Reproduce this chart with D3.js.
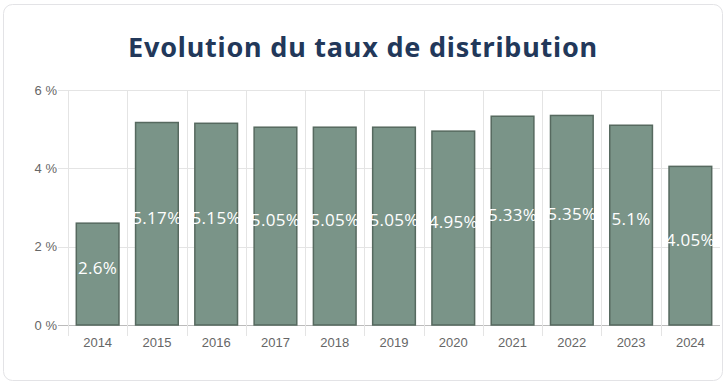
<html>
<head>
<meta charset="utf-8">
<script src="https://d3js.org/d3.v7.min.js"></script>
<style>
  body { margin: 0; background: #fff; }
  .card { fill: #fff; stroke: #e3e3e6; stroke-width: 1px; }
  .title { font-family: "Noto Sans", sans-serif; font-weight: 700; font-size: 27px; letter-spacing: 0.8px; fill: #22385a; }
  .grid line { stroke: #e4e4e4; stroke-width: 1px; }
  .bar { fill: #7a9488; stroke: #56695f; stroke-width: 1.5px; }
  .label { font-family: "Open Sans", sans-serif; font-size: 17px; letter-spacing: 0.3px; fill: #fff; }
</style>
</head>
<body>
<svg id="chart" width="727" height="386"></svg>
<script>
  const years = ["2014","2015","2016","2017","2018","2019","2020","2021","2022","2023","2024"];
  const rates = [2.6, 5.17, 5.15, 5.05, 5.05, 5.05, 4.95, 5.33, 5.35, 5.1, 4.05];
  const labels = ["2.6%","5.17%","5.15%","5.05%","5.05%","5.05%","4.95%","5.33%","5.35%","5.1%","4.05%"];
  const yTicks = [0, 2, 4, 6];

  const svg = d3.select("#chart");
  const margin = { top: 90, right: 7, bottom: 61, left: 68 };
  const width = 727 - margin.left - margin.right;
  const height = 386 - margin.top - margin.bottom;

  svg.append("rect").attr("class", "card")
     .attr("x", 3.5).attr("y", 4.5).attr("width", 719).attr("height", 376)
     .attr("rx", 9).attr("ry", 9);

  svg.append("text").attr("class", "title")
     .attr("x", 363).attr("y", 57).attr("text-anchor", "middle")
     .text("Evolution du taux de distribution");

  const g = svg.append("g").attr("transform", "translate(" + margin.left + "," + margin.top + ")");

  const x = d3.scaleBand().domain(years).range([0, width]).paddingInner(0.28).paddingOuter(0.14);
  const y = d3.scaleLinear().domain([0, 6]).range([height, 0]);

  // horizontal grid + y ticks
  g.append("g").attr("class", "grid")
   .selectAll("line").data(yTicks).join("line")
   .attr("x1", -10).attr("x2", width)
   .attr("y1", d => Math.round(y(d)) + 0.5).attr("y2", d => Math.round(y(d)) + 0.5)
   .style("stroke", d => d === 0 ? "#bbb" : "#e4e4e4");

  // vertical grid at band boundaries
  const step = x.step();
  g.append("g").attr("class", "grid")
   .selectAll("line").data(years).join("line")
   .attr("x1", (d, i) => Math.round(i * step) + 0.5).attr("x2", (d, i) => Math.round(i * step) + 0.5)
   .attr("y1", 0).attr("y2", height + 11);

  const yAxis = g.append("g")
   .call(d3.axisLeft(y).tickValues(yTicks).tickFormat(d => d + " %").tickSize(0).tickPadding(11));
  yAxis.select(".domain").remove();
  yAxis.selectAll("text").style("font-family", "'Liberation Sans', Arial, sans-serif")
       .style("font-size", "13px").style("fill", "#666");

  const xAxis = g.append("g").attr("transform", "translate(0," + height + ")")
   .call(d3.axisBottom(x).tickSize(0).tickPadding(13));
  xAxis.select(".domain").remove();
  xAxis.selectAll("text").style("font-family", "'Liberation Sans', Arial, sans-serif")
       .style("font-size", "13px").style("fill", "#666");

  g.selectAll("rect.bar").data(rates).join("rect")
   .attr("class", "bar")
   .attr("x", (d, i) => x(years[i]))
   .attr("y", d => y(d))
   .attr("width", x.bandwidth())
   .attr("height", d => height - y(d));

  g.selectAll("text.label").data(rates).join("text")
   .attr("class", "label")
   .attr("x", (d, i) => x(years[i]) + x.bandwidth() / 2)
   .attr("y", d => (y(d) + height) / 2)
   .attr("text-anchor", "middle")
   .text((d, i) => labels[i]);
</script>
</body>
</html>
